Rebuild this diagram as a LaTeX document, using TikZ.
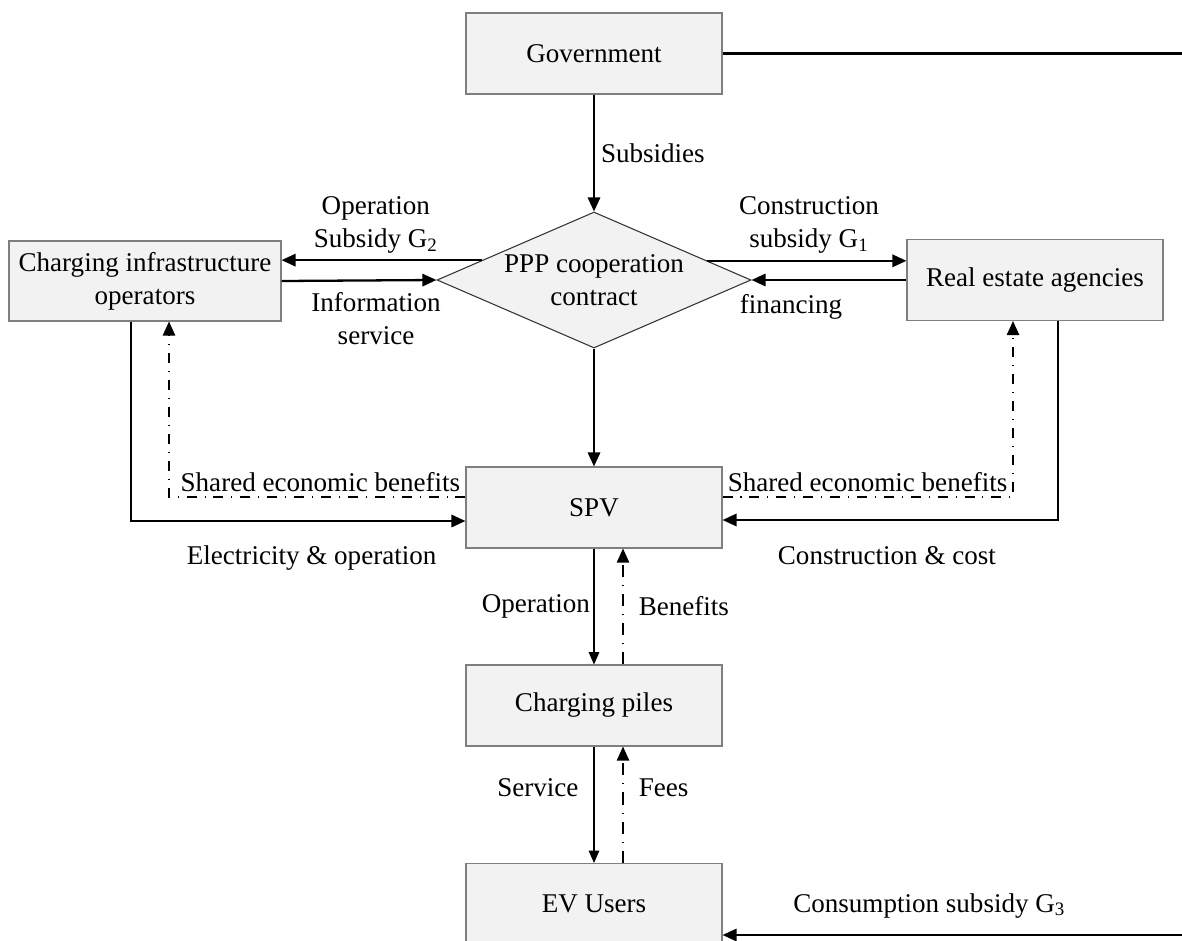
\documentclass[tikz,border=0pt]{standalone}
\usepackage{fontspec}
\setmainfont{Liberation Serif}
\usepackage{tikz}
\usetikzlibrary{
  arrows.meta,
  shapes.geometric,
  positioning,
  calc
}
\definecolor{pppFill}{HTML}{F2F2F2}
\definecolor{pppEdge}{HTML}{7F7F7F}
\tikzset{
  pppbox/.style={
    draw=pppEdge, fill=pppFill, line width=0.6pt,
    minimum width=5.12cm, minimum height=1.62cm, align=center
  },
  pppdiamond/.style={
    diamond, draw=black!80, fill=pppFill, line width=0.6pt,
    aspect=2.31, inner sep=0pt, minimum width=6.28cm, minimum height=2.72cm,
    align=center
  },
  plainline/.style={line width=1.3pt},
  flow/.style={-{Triangle[length=8pt,width=7pt]}, line width=1.3pt},
  thinflow/.style={-{Triangle[length=7pt,width=6pt]}, line width=0.6pt},
  benefit/.style={-{Triangle[length=8pt,width=7pt]}, line width=1pt,
    dash pattern=on 5.7pt off 4.5pt on 0.6pt off 4.5pt},
  thinbenefit/.style={benefit, line width=0.9pt,
    dash pattern=on 7pt off 4.5pt on 0.6pt off 4.5pt},
  tag/.style={align=center}
}

\begin{document}
\begin{tikzpicture}[font=\fontsize{15.4}{18.8}\selectfont]
  \useasboundingbox (0,0) rectangle (23.64,-18.82);
  % actors
  \node[pppbox] (gov) at (11.88,-1.07) {Government};
  \node[pppdiamond] (ppp) at (11.88,-5.6) {PPP cooperation\\contract};
  \node[pppbox, minimum width=5.44cm, minimum height=1.6cm] (cio) at (2.9,-5.62) {Charging infrastructure\\operators};
  \node[pppbox] (rea) at (20.7,-5.6) {Real estate agencies};
  \node[pppbox] (spv) at (11.88,-10.15) {SPV};
  \node[pppbox] (piles) at (11.88,-14.11) {Charging piles};
  \node[pppbox] (ev) at (11.88,-18.08) {EV Users};
  % free ends at the right edge
  \coordinate (govend) at (23.64,-1.07);
  \coordinate (g3start) at (23.64,-18.7);
  \coordinate (pppNW) at ($(ppp.west)!0.29!(ppp.north)$);
  \coordinate (pppNE) at ($(ppp.east)!0.28!(ppp.north)$);

  % government and contract
  \draw[plainline] (gov.east) -- (govend);
  \draw[flow] (gov.south) -- node[right, tag] {Subsidies} (ppp.north);
  \draw[flow] (pppNW) -- node[above, tag, pos=0.53] {Operation\\Subsidy G\textsubscript{2}} (cio.east |- pppNW);
  \draw[flow] (cio.east) -- node[below, tag, pos=0.61, yshift=-0.1cm] {Information\\service} (ppp.west);
  \draw[flow] (pppNE) -- node[above, tag, pos=0.51] {Construction\\subsidy G\textsubscript{1}} (rea.west |- pppNE);
  \draw[flow] (rea.west) -- node[below, tag, pos=0.745, yshift=-0.15cm] {financing} (ppp.east);
  \draw[flow] (ppp.south) -- (spv.north);

  % loops into the SPV
  \draw[flow] ([xshift=-0.28cm]cio.south) |- node[below, tag, pos=0.77, yshift=-0.35cm] {Electricity \& operation} ([yshift=-0.27cm]spv.west);
  \draw[benefit] ([yshift=0.21cm]spv.west) -| node[pos=0, anchor=south east, inner sep=2.5pt] {Shared economic benefits} ([xshift=0.48cm]cio.south);
  \draw[flow] ([xshift=0.46cm]rea.south) |- node[below, tag, pos=0.755, yshift=-0.39cm] {Construction \& cost} ([yshift=-0.25cm]spv.east);
  \draw[benefit] ([yshift=0.21cm]spv.east) -| node[pos=0, anchor=south west, inner sep=2.5pt] {Shared economic benefits} ([xshift=-0.44cm]rea.south);

  % down to the users
  \draw[thinflow] (spv.south) -- node[left, inner sep=2pt] {Operation} (piles.north);
  \draw[thinbenefit] ([xshift=0.58cm]piles.north) -- node[right, inner sep=0.3cm] {Benefits} ([xshift=0.58cm]spv.south);
  \draw[thinflow] (piles.south) -- node[left, pos=0.35, inner sep=0.3cm] {Service} (ev.north);
  \draw[thinbenefit] ([xshift=0.58cm]ev.north) -- node[right, pos=0.65, inner sep=0.3cm] {Fees} ([xshift=0.58cm]piles.south);
  \draw[flow] (g3start) -- node[above, tag, pos=0.55, yshift=0.2cm] {Consumption subsidy G\textsubscript{3}} (ev.east |- g3start);
\end{tikzpicture}
\end{document}
